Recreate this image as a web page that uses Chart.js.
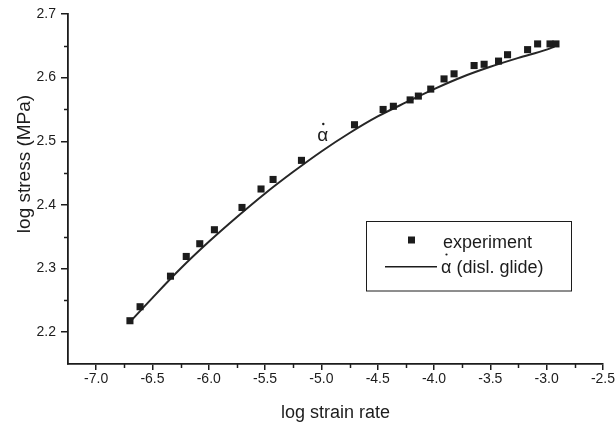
<!DOCTYPE html>
<html><head><meta charset="utf-8">
<script src="https://cdn.jsdelivr.net/npm/chart.js@4/dist/chart.umd.min.js"></script>
<style>html,body{margin:0;padding:0;background:#fff}#wrap{width:616px;height:428px}</style>
</head><body><div id="wrap"><canvas id="c" width="616" height="428"></canvas></div>
<script>
// experiment points
const expX = [-6.70,-6.61,-6.34,-6.20,-6.08,-5.95,-5.705,-5.536,-5.429,-5.177,-4.706,-4.452,-4.361,-4.212,-4.139,-4.029,-3.911,-3.822,-3.644,-3.555,-3.427,-3.347,-3.169,-3.080,-2.970,-2.917];
const expY = [2.218,2.240,2.288,2.319,2.339,2.361,2.396,2.425,2.440,2.470,2.526,2.550,2.555,2.565,2.571,2.582,2.598,2.606,2.619,2.621,2.626,2.636,2.644,2.653,2.653,2.653];
// model curve (disl. glide)
const fitX = [-6.70,-6.50,-6.25,-6.00,-5.75,-5.50,-5.25,-5.00,-4.75,-4.50,-4.25,-4.00,-3.75,-3.50,-3.25,-3.00,-2.93];
const fitY = [2.216,2.254,2.300,2.342,2.381,2.418,2.452,2.484,2.513,2.539,2.561,2.582,2.601,2.617,2.631,2.644,2.649];
const xTicks = [-7.0,-6.5,-6.0,-5.5,-5.0,-4.5,-4.0,-3.5,-3.0,-2.5];
const yTicks = [2.2,2.3,2.4,2.5,2.6,2.7];
const xRange = [-7.25,-2.5];
const yRange = [2.15,2.7];
const xTitle = 'log strain rate';
const yTitle = 'log stress (MPa)';
const legendLabels = ['experiment','α (disl. glide)'];
const curveLabel = 'α';

const INK = '#1c1c1c';
const FONT = "'Liberation Sans', Arial, sans-serif";

const extras = {
  id: 'extras',
  afterDraw(chart) {
    const ctx = chart.ctx, xs = chart.scales.x, ys = chart.scales.y;
    ctx.save();
    ctx.strokeStyle = INK; ctx.lineWidth = 1.5;
    // minor ticks
    for (let i = 0; i < xTicks.length - 1; i++) {
      const px = Math.round(xs.getPixelForValue((xTicks[i] + xTicks[i+1]) / 2)) + 0.5;
      ctx.beginPath(); ctx.moveTo(px, xs.top); ctx.lineTo(px, xs.top + 4); ctx.stroke();
    }
    for (let i = 0; i < yTicks.length - 1; i++) {
      const py = Math.round(ys.getPixelForValue((yTicks[i] + yTicks[i+1]) / 2)) + 0.5;
      ctx.beginPath(); ctx.moveTo(ys.right, py); ctx.lineTo(ys.right - 4, py); ctx.stroke();
    }
    ctx.fillStyle = INK;
    // axis titles
    ctx.font = '18px ' + FONT;
    ctx.textAlign = 'center'; ctx.textBaseline = 'middle';
    ctx.fillText(xTitle, (chart.chartArea.left + chart.chartArea.right) / 2, 413);
    ctx.save();
    ctx.translate(25, 164); ctx.rotate(-Math.PI / 2);
    ctx.font = '19px ' + FONT;
    ctx.fillText(yTitle, 0, 0);
    ctx.restore();
    // curve label alpha-dot
    ctx.font = '19px ' + FONT;
    ctx.fillText(curveLabel, 322.7, 136);
    ctx.beginPath(); ctx.arc(323.3, 124, 1.2, 0, Math.PI * 2); ctx.fill();
    // legend
    ctx.lineWidth = 1;
    ctx.strokeRect(366.5, 221.5, 205, 69.5);
    ctx.fillRect(408, 236.5, 7, 7);
    ctx.lineWidth = 1.6;
    ctx.beginPath(); ctx.moveTo(385, 266.7); ctx.lineTo(437, 266.7); ctx.stroke();
    ctx.font = '18px ' + FONT;
    ctx.textAlign = 'left';
    ctx.fillText(legendLabels[0], 443, 243);
    ctx.fillText(legendLabels[1], 441, 268);
    ctx.beginPath(); ctx.arc(446.5, 254.5, 1.1, 0, Math.PI * 2); ctx.fill();
    ctx.restore();
  }
};

new Chart(document.getElementById('c'), {
  type: 'scatter',
  data: {
    datasets: [
      {
        label: legendLabels[0],
        data: expX.map((x, i) => ({x, y: expY[i]})),
        pointStyle: 'rect', pointRadius: 5, pointHoverRadius: 5,
        backgroundColor: INK, borderWidth: 0, showLine: false
      },
      {
        label: legendLabels[1],
        data: fitX.map((x, i) => ({x, y: fitY[i]})),
        showLine: true, pointRadius: 0, borderColor: '#262626', borderWidth: 2,
        tension: 0.4, cubicInterpolationMode: 'monotone', fill: false
      }
    ]
  },
  options: {
    responsive: false, animation: false, devicePixelRatio: 1,
    layout: { padding: { left: 0, right: 13, top: 14, bottom: 0 } },
    plugins: { legend: { display: false }, tooltip: { enabled: false } },
    scales: {
      x: {
        type: 'linear', min: xRange[0], max: xRange[1],
        afterFit: s => { s.height = 64; },
        afterBuildTicks: s => { s.ticks = xTicks.map(v => ({value: v})); },
        border: { display: true, color: INK, width: 1.8 },
        grid: { drawOnChartArea: false, drawTicks: true, tickLength: 6, color: INK, lineWidth: 1.5 },
        ticks: { color: INK, font: { family: FONT, size: 14 }, padding: 1,
                 callback: v => v.toFixed(1) }
      },
      y: {
        type: 'linear', min: yRange[0], max: yRange[1],
        afterFit: s => { s.width = 68; },
        afterBuildTicks: s => { s.ticks = yTicks.map(v => ({value: v})); },
        border: { display: true, color: INK, width: 1.8 },
        grid: { drawOnChartArea: false, drawTicks: true, tickLength: 7, color: INK, lineWidth: 1.5 },
        ticks: { color: INK, font: { family: FONT, size: 14 }, padding: 5,
                 callback: v => v.toFixed(1) }
      }
    }
  },
  plugins: [extras]
});
</script>
</body></html>
